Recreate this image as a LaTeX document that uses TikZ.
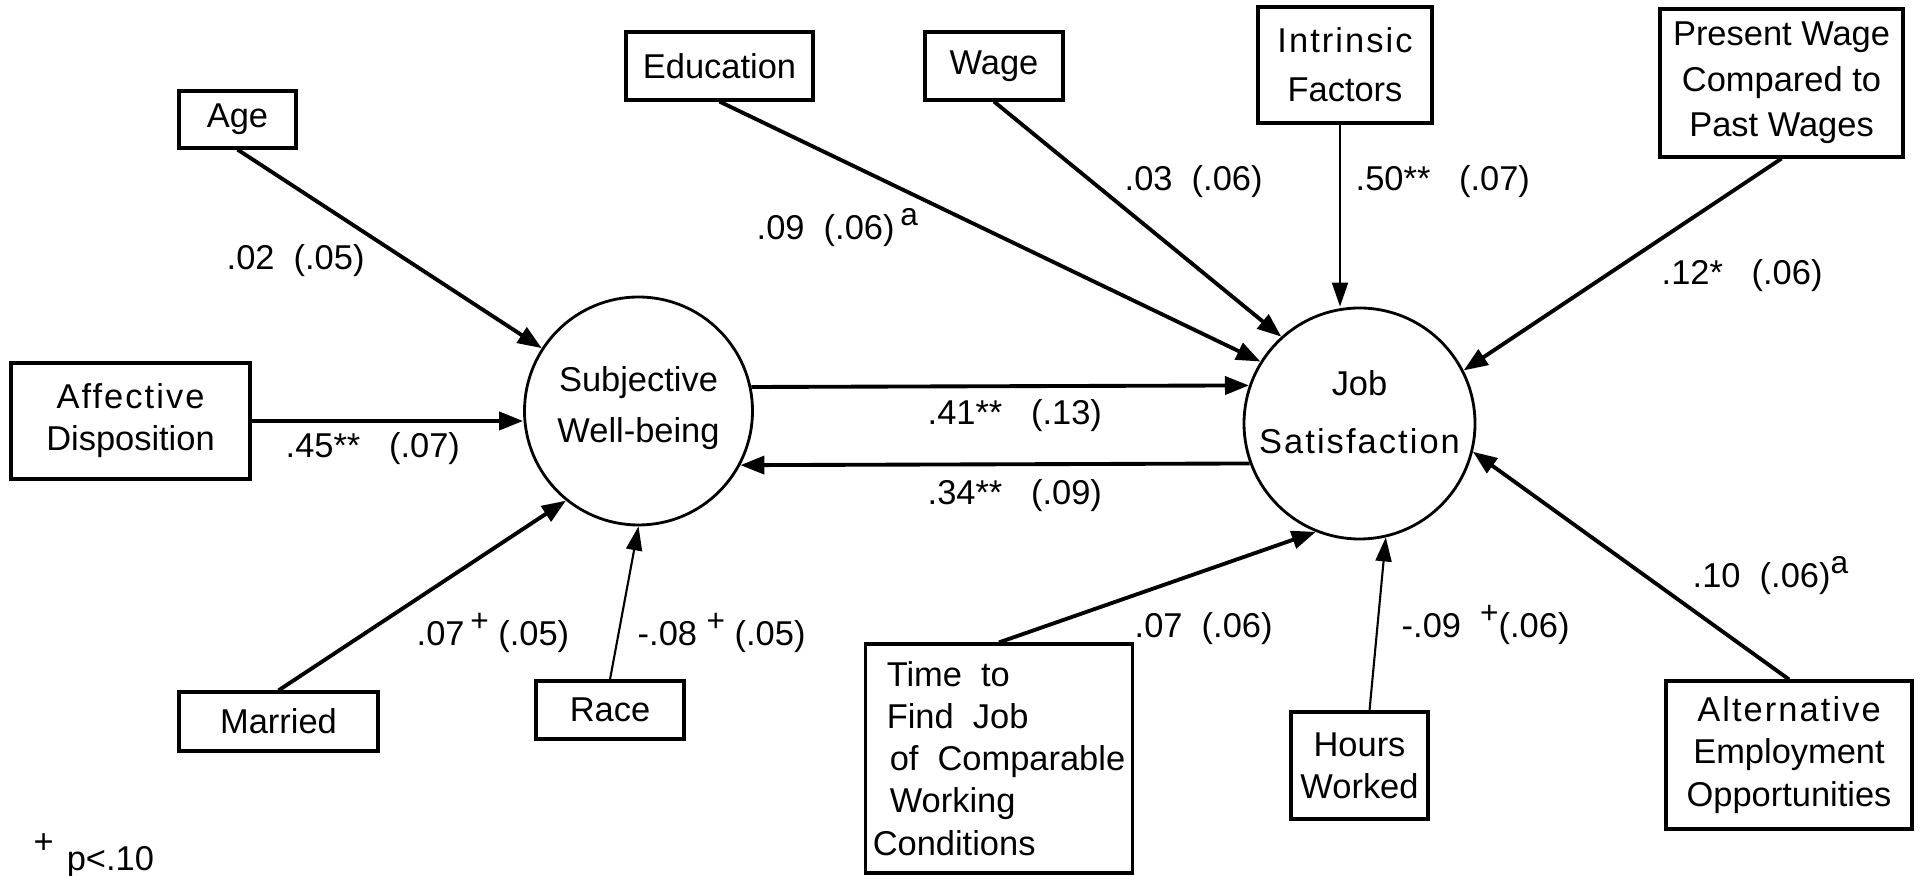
\documentclass[tikz,border=0pt]{standalone}
\usepackage{fontspec}
\setmainfont{Liberation Sans}
\newfontfamily\widefont[LetterSpace=6]{Liberation Sans}
\usetikzlibrary{arrows.meta}
\newcommand{\sig}[1]{\raisebox{0.8ex}{\small #1}}

\begin{document}
\begin{tikzpicture}[
    box/.style={rectangle, draw, line width=0.9pt, inner sep=2pt,
                font=\fontsize{9.8}{12}\selectfont, align=center},
    latent/.style={circle, draw, line width=0.8pt, inner sep=0pt,
                   font=\fontsize{9.8}{12}\selectfont, align=center},
    coef/.style={anchor=base west, inner sep=0pt,
                 font=\fontsize{9.8}{12}\selectfont},
    arr/.style={-{Triangle[length=2.4mm,width=1.8mm]}, line width=1.1pt},
    thinarr/.style={-{Triangle[length=2.4mm,width=1.6mm]}, line width=0.6pt}
]
    \useasboundingbox (0,0) rectangle (19.2,-8.76);

    % latent variables
    \node[latent, minimum size=2.28cm, text depth=0.13cm] (swb) at (6.385,-4.11)
        {Subjective\\[2.5pt]Well-being};
    \node[latent, minimum size=2.31cm, text depth=0.22cm] (job) at (13.595,-4.235)
        {Job\\[4.5pt]{\widefont Satisfaction}};

    % predictors of well-being
    \node[box, minimum width=1.17cm, minimum height=0.57cm] (age) at (2.375,-1.195) {Age};
    \node[box, minimum width=2.39cm, minimum height=1.16cm] (aff) at (1.305,-4.21)
        {{\widefont Affective}\\Disposition};
    \node[box, minimum width=1.99cm, minimum height=0.59cm] (mar) at (2.785,-7.215) {Married};
    \node[box, minimum width=1.48cm, minimum height=0.58cm] (race) at (6.10,-7.10) {Race};

    % predictors of job satisfaction
    \node[box, minimum width=1.87cm, minimum height=0.68cm] (edu) at (7.195,-0.66) {Education};
    \node[box, minimum width=1.38cm, minimum height=0.68cm] (wage) at (9.94,-0.66) {Wage};
    \node[box, minimum width=1.74cm, minimum height=1.16cm] (intr) at (13.45,-0.65)
        {{\widefont Intrinsic}\\[2pt]Factors};
    \node[box, minimum width=2.43cm, minimum height=1.48cm] (pres) at (17.815,-0.83)
        {Present Wage\\[1pt]Compared to\\[1pt]Past Wages};
    \node[box, minimum width=2.62cm, minimum height=2.29cm, align=left] (time) at (9.99,-7.585)
        {\hspace{0.14cm}Time\ \ to\\\hspace{0.14cm}Find\ \ Job\\\hspace{0.17cm}of\ \ Comparable\\\hspace{0.17cm}Working\\Conditions};
    \node[box, minimum width=1.37cm, minimum height=1.07cm] (hours) at (13.595,-7.655)
        {Hours\\Worked};
    \node[box, minimum width=2.46cm, minimum height=1.48cm] (alt) at (17.89,-7.55)
        {{\widefont Alternative}\\Employment\\Opportunities};

    % paths
    \draw[arr] (age.south) -- (swb.147);
    \draw[arr] (aff.east) -- (aff.east -| swb.west);
    \draw[arr] (mar.north) -- (swb.231);
    \draw[thinarr] (race.north) -- (swb.south);
    \draw[arr] (swb.12.7) -- (job.161);
    \draw[arr] (job.200.5) -- (swb.332.3);
    \draw[arr] (edu.south) -- (job.148);
    \draw[arr] (wage.south) -- (job.132);
    \draw[thinarr] ([xshift=-0.5mm]intr.south) -- ([xshift=-0.5mm]intr.south |- job.north);
    \draw[arr] (pres.south) -- (job.27);
    \draw[arr] (time.north) -- (job.248);
    \draw[thinarr] ([xshift=1mm]hours.north) -- (job.283);
    \draw[arr] (alt.north) -- (job.346);

    % coefficients
    \node[coef] (c_age) at (2.26,-2.70) {.02\ \ (.05)};
    \node[coef] (c_aff) at (2.85,-4.58) {.45**\ \ \ (.07)};
    \node[coef] (c_mar) at (4.16,-6.46) {.07\,\sig{+}\ (.05)};
    \node[coef] (c_race) at (6.37,-6.46) {-.08\ \sig{+}\ (.05)};
    \node[coef] (c_sj) at (9.27,-4.25) {.41**\ \ \ (.13)};
    \node[coef] (c_js) at (9.27,-5.05) {.34**\ \ \ (.09)};
    \node[coef] (c_edu) at (7.56,-2.40) {.09\ \ (.06)\,\sig{a}};
    \node[coef] (c_wage) at (11.24,-1.91) {.03\ \ (.06)};
    \node[coef] (c_intr) at (13.55,-1.91) {.50**\ \ \ (.07)};
    \node[coef] (c_pres) at (16.61,-2.85) {.12*\ \ \ (.06)};
    \node[coef] (c_time) at (11.34,-6.38) {.07\ \ (.06)};
    \node[coef] (c_hours) at (14.01,-6.38) {-.09\ \ \sig{+}(.06)};
    \node[coef] (c_alt) at (16.92,-5.88) {.10\ \ (.06)\sig{a}};

    % note
    \node[coef] (note) at (0.33,-8.71) {\raisebox{5pt}{+}\hspace{0.13cm}p<.10};
\end{tikzpicture}
\end{document}
